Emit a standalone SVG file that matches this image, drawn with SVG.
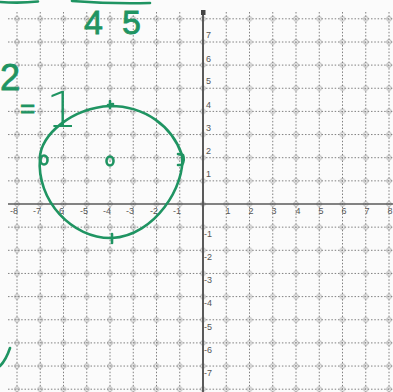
<svg xmlns="http://www.w3.org/2000/svg" width="393" height="392" viewBox="0 0 393 392">
<style>
.g{stroke:#808080;stroke-width:1;stroke-dasharray:1.5 1.8;fill:none}
.ax{stroke:#5a5a5a;fill:none}
.lb{font-family:"Liberation Sans",Arial,sans-serif;font-size:9px;fill:#555}
.lx{text-anchor:middle}
.pen{stroke:#1f9462;stroke-width:2.6;fill:none;stroke-linecap:round;stroke-linejoin:round}
.ink{font-family:"Liberation Sans",Arial,sans-serif;fill:#1f9462;stroke:#1f9462;stroke-width:0.8}
</style>
<defs>
<pattern id="dots" patternUnits="userSpaceOnUse" x="5.375" y="7.225" width="23.25" height="23.15">
<circle cx="11.625" cy="11.575" r="2.3" fill="none" stroke="#a8a8a8" stroke-width="0.9"/>
</pattern>
</defs>
<rect width="393" height="392" fill="#fbfbfb"/>
<g id="grid">
<rect x="8" y="10" width="385" height="382" fill="url(#dots)"/>
<path class="g" d="M17 12V392M40.25 12V392M63.5 12V392M86.75 12V392M110 12V392M133.25 12V392M156.5 12V392M179.75 12V392M226.25 12V392M249.5 12V392M272.75 12V392M296 12V392M319.25 12V392M342.5 12V392M365.75 12V392M389 12V392"/>
<path class="g" d="M8 18.8H393M8 42H393M8 65.1H393M8 88.25H393M8 111.4H393M8 134.55H393M8 157.7H393M8 180.85H393M8 227.15H393M8 250.3H393M8 273.45H393M8 296.6H393M8 319.75H393M8 342.9H393M8 366.05H393M8 389.2H393"/>
</g>
<g id="axes">
<line class="ax" x1="203" y1="12" x2="203" y2="392" stroke-width="2"/>
<line class="ax" x1="8" y1="204" x2="393" y2="204" stroke-width="1.6"/>
<rect x="201" y="10" width="4.5" height="5" fill="#444"/>
</g>
<g id="xlabels" class="lb lx">
<text x="14" y="214">-8</text><text x="37" y="214">-7</text><text x="60" y="214">-6</text><text x="84" y="214">-5</text><text x="107" y="214">-4</text><text x="130" y="214">-3</text><text x="154" y="214">-2</text><text x="177" y="214">-1</text>
<text x="228" y="214">1</text><text x="251" y="214">2</text><text x="274" y="214">3</text><text x="298" y="214">4</text><text x="321" y="214">5</text><text x="344" y="214">6</text><text x="367" y="214">7</text><text x="390" y="214">8</text>
</g>
<g id="ylabels" class="lb">
<text x="206" y="38">7</text><text x="206" y="62">6</text><text x="206" y="84">5</text><text x="206" y="108">4</text><text x="206" y="131">3</text><text x="206" y="154">2</text><text x="206" y="177">1</text>
<text x="204" y="237">-1</text><text x="204" y="260">-2</text><text x="204" y="283">-3</text><text x="204" y="306">-4</text><text x="204" y="330">-5</text><text x="204" y="353">-6</text><text x="204" y="376">-7</text>
</g>
<g id="handwriting">
<path class="pen" d="M0 2Q20 3.5 38 1.5M72 1Q110 4 150 3"/>
<text class="ink" x="84" y="34" font-size="34" letter-spacing="19">45</text>
<text class="ink" x="0" y="90" font-size="36">2</text>
<text class="ink" x="20" y="117" font-size="26">=</text>
<text x="46" y="127" font-size="50" font-family="'DejaVu Sans',sans-serif" font-weight="200" fill="#1f9462">1</text>
<path class="pen" d="M0 366Q6 360 10 348"/>
<path class="pen" d="M40 158C40 135 72 108 110 106C145 106 172 126 182 155C186 185 155 236 112 238C72 239 36 200 40 158Z"/>
<ellipse class="pen" cx="44" cy="160" rx="3.5" ry="4.5"/>
<ellipse class="pen" cx="110" cy="161" rx="3.5" ry="4.5"/>
<path class="pen" d="M178 154L183 155Q185 160 182 165L178 165"/>
<path class="pen" d="M110 101L110 108M108 105L113 104"/>
<path class="pen" d="M112 234L112 243"/>
</g>
</svg>
